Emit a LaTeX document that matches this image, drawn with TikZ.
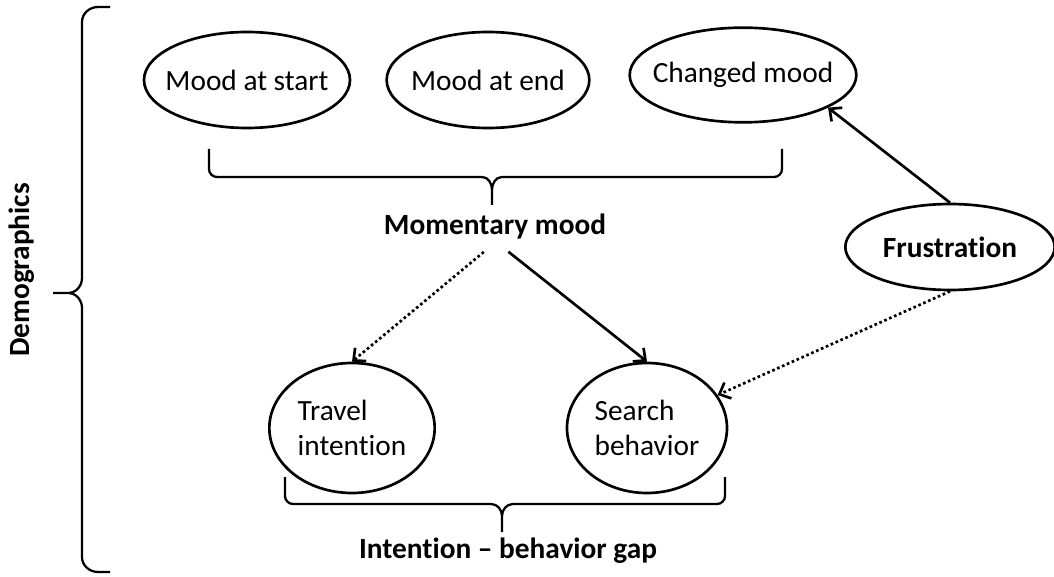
\documentclass[tikz,border=0pt]{standalone}
\usepackage{fontspec}
\setmainfont{Carlito}[Ligatures=NoCommon]
\usetikzlibrary{arrows.meta,shapes.geometric}

\begin{document}
\begin{tikzpicture}[
        x=0.75pt, y=-0.75pt,
        >={Straight Barb[length=7pt,width=13pt]},
        every node/.style={font=\fontsize{22}{26}\selectfont},
        mood/.style={
            draw,
            ellipse,
            line width=2pt,
            align=center,
            inner xsep=-20pt,
            inner ysep=0pt
        },
        heading/.style={font=\fontsize{22}{26}\selectfont\bfseries},
        bracket/.style={line width=1.7pt},
        arrow/.style={->, line width=2pt},
        hint/.style={dash pattern=on 2pt off 2pt}
    ]

    \useasboundingbox (0,0) rectangle (1054,577);

    % moods
    \node[mood, minimum width=154.5pt, minimum height=72pt] (start) at (247,80) {Mood at start};
    \node[mood, minimum width=152pt, minimum height=72pt] (end) at (488,80) {Mood at end};
    \node[mood, minimum width=170pt, minimum height=71pt] (changed) at (743,75) {Changed mood};

    \node[mood, minimum width=157pt, minimum height=64.5pt, font=\fontsize{22}{26}\selectfont\bfseries] (frust) at (950,247) {Frustration};

    \node[mood, align=left, minimum width=124pt, minimum height=97.5pt] (travel) at (352,428) {Travel\\intention};
    \node[mood, align=left, minimum width=120pt, minimum height=97.5pt] (search) at (647,428) {Search\\behavior};

    % labels
    \node[heading] (mm) at (495,227) {Momentary mood};
    \node[heading] (gap) at (508,551) {Intention -- behavior gap};
    \node[heading, rotate=90] (demo) at (22,270) {Demographics};

    % braces
    \draw[bracket] (209,149) -- (209,169) to[out=-90,in=180] (217,177) -- (482,177)
        to[out=0,in=90] (492,190) -- (492,205)
        (492,190) to[out=90,in=180] (502,177) -- (774,177) to[out=0,in=-90] (782,169) -- (782,149);

    \draw[bracket] (285,477) -- (285,496) to[out=-90,in=180] (293,504) -- (491,504)
        to[out=0,in=90] (502,516) -- (502,532)
        (502,516) to[out=90,in=180] (513,504) -- (717,504) to[out=0,in=-90] (725,496) -- (725,477);

    \draw[bracket] (110,7) -- (98,7) to[out=180,in=90] (82,22) -- (82,278)
        to[out=-90,in=0] (68,293) -- (53,293)
        (68,293) to[out=0,in=90] (82,308) -- (82,557) to[out=-90,in=180] (98,572) -- (110,572);

    % influences
    \draw[arrow, hint, shorten <=9pt] ([xshift=-1.5pt]mm.south) -- (travel.north);
    \draw[arrow, shorten <=9pt] ([xshift=3pt]mm.south) -- (search.north);
    \draw[arrow] (frust.north) -- (changed.-21);
    \draw[arrow, hint] (frust.south) -- (search.25);

\end{tikzpicture}
\end{document}
